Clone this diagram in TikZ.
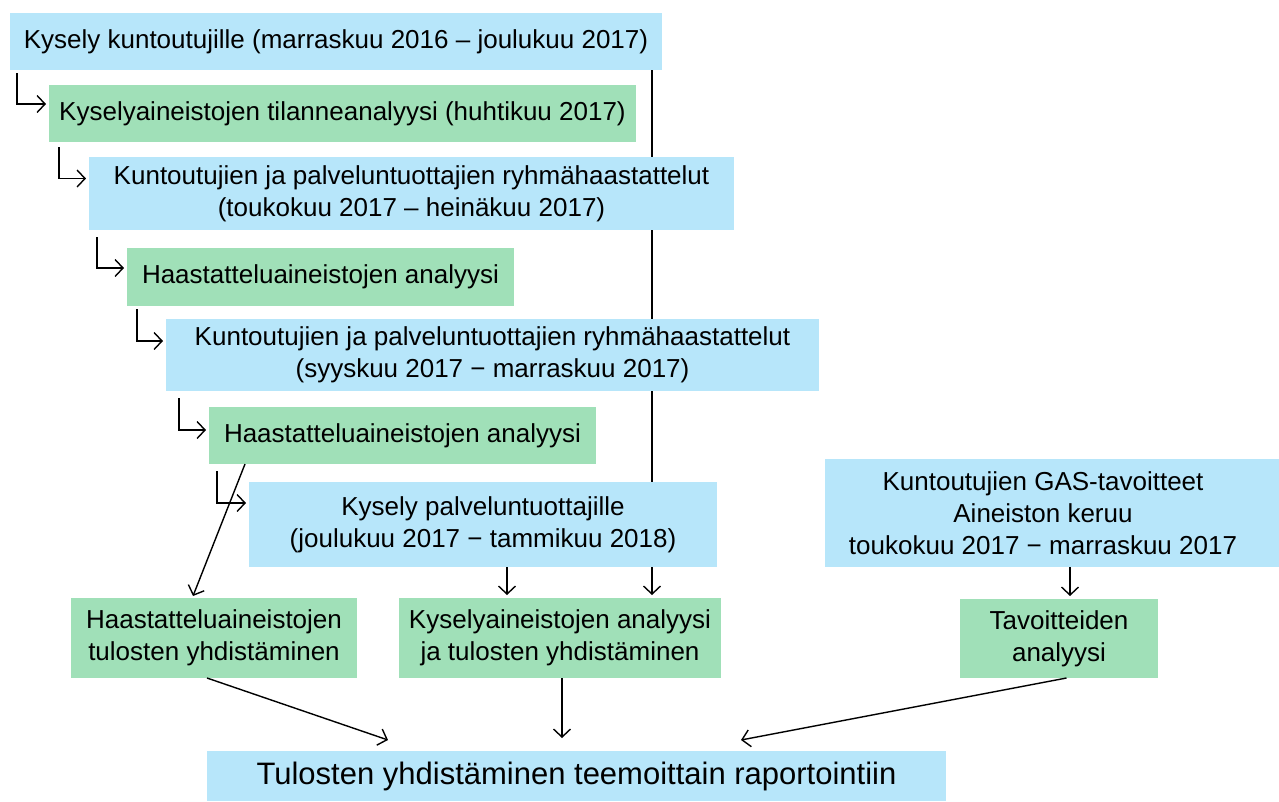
\documentclass[tikz,border=0pt]{standalone}
\usepackage{fontspec}
\setmainfont{Liberation Sans}
\usetikzlibrary{arrows.meta,backgrounds}
\definecolor{bblue}{RGB}{183,230,250}
\definecolor{bgreen}{RGB}{160,224,184}
\tikzset{
  bx/.style={inner sep=0pt, outer sep=0pt, align=center, font=\fontsize{26}{32}\selectfont},
  bluebox/.style={bx, fill=bblue},
  greenbox/.style={bx, fill=bgreen},
  arr/.style={line width=1.4pt, -{Straight Barb[length=8pt,width=17pt,line width=1.4pt]}},
}
\newcommand{\mybox}[7]{%
  \node[#6, minimum width={(#4)-(#2)}, minimum height={(#5)-(#3)}] (#1) at ({((#2)+(#4))/2},{((#3)+(#5))/2}) {#7};}
\begin{document}
\begin{tikzpicture}[x=1pt,y=-1pt]
\useasboundingbox (0,0) rectangle (1279,801);
\mybox{b1}{10}{13}{662}{70}{bluebox}{Kysely kuntoutujille (marraskuu 2016 – joulukuu 2017)}
\mybox{b2}{49}{85}{636}{142}{greenbox}{Kyselyaineistojen tilanneanalyysi (huhtikuu 2017)}
\mybox{b3}{89}{157}{734}{230}{bluebox}{Kuntoutujien ja palveluntuottajien ryhmähaastattelut\\(toukokuu 2017 – heinäkuu 2017)}
\mybox{b4}{127}{248}{514}{306}{greenbox}{Haastatteluaineistojen analyysi}
\mybox{b5}{166}{319}{819}{391}{bluebox}{Kuntoutujien ja palveluntuottajien ryhmähaastattelut\\(syyskuu 2017 − marraskuu 2017)}
\mybox{b6}{209}{407}{596}{464}{greenbox}{Haastatteluaineistojen analyysi}
\mybox{b7}{249}{482}{717}{567}{bluebox}{Kysely palveluntuottajille\\(joulukuu 2017 − tammikuu 2018)}
\mybox{b8}{825}{459}{1279}{567}{bluebox}{\hspace*{-18pt}Kuntoutujien GAS-tavoitteet\\\hspace*{-18pt}Aineiston keruu\\\hspace*{-18pt}toukokuu 2017 − marraskuu 2017}
\mybox{b9}{71}{598}{357}{678}{greenbox}{Haastatteluaineistojen\\tulosten yhdistäminen}
\mybox{b10}{399}{598}{721}{678}{greenbox}{Kyselyaineistojen analyysi\\ja tulosten yhdistäminen}
\mybox{b11}{960}{599}{1158}{678}{greenbox}{Tavoitteiden\\analyysi}
\node[bluebox, font=\fontsize{31}{36}\selectfont, minimum width=739pt, minimum height=50pt] (b12) at (576.5,776) {Tulosten yhdistäminen teemoittain raportointiin};
\coordinate (vl) at (652,0);
\coordinate (s7) at ([xshift=24pt]b7.south);
\coordinate (s8) at ([xshift=18pt]b8.south);
\begin{scope}[on background layer]
\draw[arr] (b1.south -| vl) -- ([yshift=3pt]b10.north -| vl);
\end{scope}
% elbow connectors
\draw[arr] ([xshift=7pt,yshift=-3pt]b1.south west) |- ([yshift=9.5pt,xshift=-3pt]b2.west);
\draw[arr] ([xshift=10pt,yshift=-5pt]b2.south west) |- ([yshift=15pt,xshift=-3pt]b3.west);
\draw[arr] ([xshift=8pt,yshift=-7pt]b3.south west) |- ([yshift=9pt,xshift=-3pt]b4.west);
\draw[arr] ([xshift=10pt,yshift=-3pt]b4.south west) |- ([yshift=14pt,xshift=-3pt]b5.west);
\draw[arr] ([xshift=13pt,yshift=-7pt]b5.south west) |- ([yshift=5.5pt,xshift=-3pt]b6.west);
\draw[arr] ([xshift=8pt,yshift=-7pt]b6.south west) |- ([yshift=21.5pt,xshift=-3pt]b7.west);
% other arrows
\draw[arr] ([xshift=36pt]b6.south west) -- ([xshift=-21pt,yshift=2pt]b9.north);
\draw[arr] (s7) -- ([yshift=3pt]b10.north -| s7);
\draw[arr] (s8) -- ([yshift=3pt]b11.north -| s8);
\draw[arr] ([xshift=-7pt]b9.south) -- ([xshift=-188.5pt,yshift=11pt]b12.north);
\draw[arr] ([xshift=2pt]b10.south) -- ([xshift=-14.5pt,yshift=13pt]b12.north);
\draw[arr] ([xshift=7.5pt]b11.south) -- ([xshift=164.5pt,yshift=11pt]b12.north);
\end{tikzpicture}
\end{document}
